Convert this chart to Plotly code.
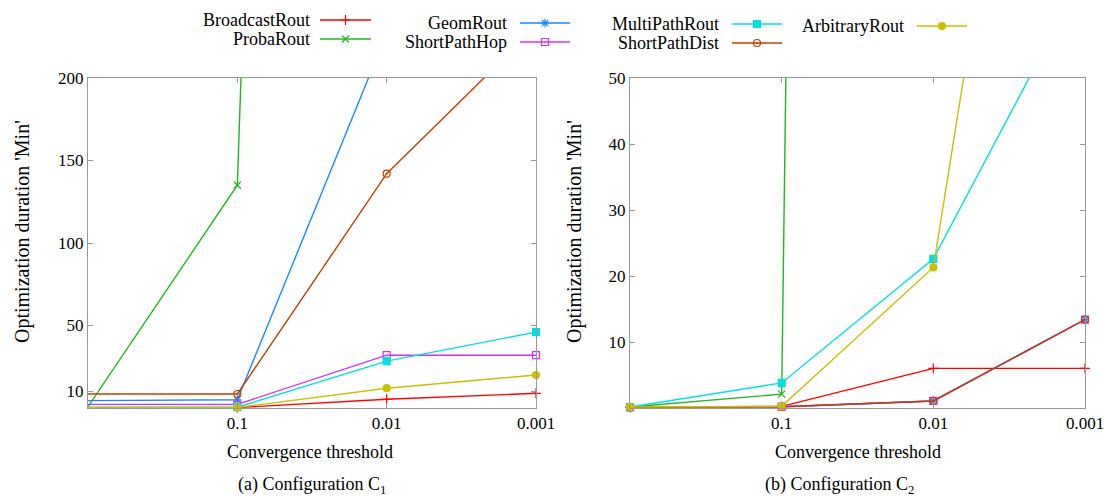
import plotly.graph_objects as go

# ---------------- data ----------------
thresholds = ["1", "0.1", "0.01", "0.001"]
x_index = [0, 1, 2, 3]
tick_labels = ["0.1", "0.01", "0.001"]

series_names = ["BroadcastRout", "ProbaRout", "GeomRout", "ShortPathHop",
                "MultiPathRout", "ShortPathDist", "ArbitraryRout"]

# Configuration C1 (minutes)
c1_broadcast = [0.2, 0.3, 5.3, 8.9]
c1_proba = [0.8, 135, 2800, 6000]
c1_geom = [4.5, 5.0, 227, 600]
c1_shortpathhop = [2.2, 2.2, 32, 32]
c1_multipath = [0.5, 0.5, 28.4, 46]
c1_shortpathdist = [8.5, 8.5, 142, 231]
c1_arbitrary = [0.4, 0.3, 12, 20]

# Configuration C2 (minutes)
c2_broadcast = [0.1, 0.25, 6.0, 6.0]
c2_proba = [0.15, 2.1, 1740, 3000]
c2_geom = [0.1, 0.2, 1.07, 13.4]
c2_shortpathhop = [0.1, 0.2, 1.07, 13.4]
c2_multipath = [0.15, 3.8, 22.6, 66]
c2_shortpathdist = [0.1, 0.2, 1.07, 13.4]
c2_arbitrary = [0.15, 0.25, 21.3, 165]

c1_values = [c1_broadcast, c1_proba, c1_geom, c1_shortpathhop,
             c1_multipath, c1_shortpathdist, c1_arbitrary]
c2_values = [c2_broadcast, c2_proba, c2_geom, c2_shortpathhop,
             c2_multipath, c2_shortpathdist, c2_arbitrary]

c1_yticks = [10, 50, 100, 150, 200]
c2_yticks = [10, 20, 30, 40, 50]

# ---------------- styles ----------------
colors = ["#ff0000", "#1fb81f", "#1e88ff", "#cc33ff",
          "#00e0e0", "#c04000", "#c8c000"]
symbols = ["cross-thin", "x-thin", "asterisk", "square-open",
           "square", "circle-open-dot", "circle"]
FONT = "Liberation Serif"
W, H = 1106, 498
LEG_H = 60  # legend strip height in pixels

fig = go.Figure()

panels = [
    dict(values=c1_values, xa="x", ya="y", ymax=200, first=1),
    dict(values=c2_values, xa="x2", ya="y2", ymax=50, first=0),
]

for p in panels:
    for name, vals, col, sym in zip(series_names, p["values"], colors, symbols):
        fig.add_trace(go.Scatter(
            x=x_index, y=vals, mode="lines", xaxis=p["xa"], yaxis=p["ya"],
            line=dict(color=col, width=1.4), showlegend=False, hoverinfo="skip"))
        mx = [x for x, v in zip(x_index, vals) if x >= p["first"] and 0 <= v <= p["ymax"]]
        my = [v for x, v in zip(x_index, vals) if x >= p["first"] and 0 <= v <= p["ymax"]]
        fig.add_trace(go.Scatter(
            x=mx, y=my, mode="markers", xaxis=p["xa"], yaxis=p["ya"],
            cliponaxis=False, showlegend=False, name=name,
            marker=dict(symbol=sym, size=7, color=col,
                        line=dict(color=col, width=1.2))))

# ---------------- custom gnuplot-style legend ----------------
legend_layout = [  # (text right edge, sample start, sample end, y) in pixels
    (312, 320, 371, 20), (312, 320, 371, 39),
    (509, 520, 570, 23), (509, 520, 570, 42),
    (721, 732, 782, 24), (721, 732, 782, 43),
    (906, 917, 967, 26),
]
for name, col, sym, (tx, x0, x1, ly) in zip(series_names, colors, symbols, legend_layout):
    fig.add_trace(go.Scatter(
        x=[x0, x1], y=[ly, ly], mode="lines", xaxis="x3", yaxis="y3",
        line=dict(color=col, width=1.4), showlegend=False, hoverinfo="skip"))
    fig.add_trace(go.Scatter(
        x=[(x0 + x1) / 2], y=[ly], mode="markers", xaxis="x3", yaxis="y3",
        marker=dict(symbol=sym, size=7, color=col, line=dict(color=col, width=1.2)),
        showlegend=False, hoverinfo="skip"))
    fig.add_annotation(x=tx / W, y=1 - ly / H, xref="paper", yref="paper",
                       text=name, showarrow=False, xanchor="right", yanchor="middle",
                       font=dict(family=FONT, size=18, color="black"))

axis_common = dict(showgrid=False, zeroline=False, showline=True, linecolor="#999999",
                   linewidth=1, mirror="ticks", ticks="inside", ticklen=5,
                   tickcolor="#999999", automargin=False, ticklabeloverflow="allow",
                   tickfont=dict(family=FONT, size=17, color="black"))

fig.update_layout(
    width=W, height=H, margin=dict(l=0, r=0, t=0, b=0, autoexpand=False),
    paper_bgcolor="white", plot_bgcolor="rgba(0,0,0,0)", showlegend=False,
    xaxis=dict(domain=[88 / W, 536 / W], range=[0, 3], tickvals=x_index[1:],
               ticktext=tick_labels, anchor="y", **axis_common),
    yaxis=dict(domain=[1 - 408 / H, 1 - 78 / H], range=[0, 200], tickvals=c1_yticks,
               anchor="x", **axis_common),
    xaxis2=dict(domain=[630 / W, 1085 / W], range=[0, 3], tickvals=x_index[1:],
                ticktext=tick_labels, anchor="y2", **axis_common),
    yaxis2=dict(domain=[1 - 408 / H, 1 - 78 / H], range=[0, 50], tickvals=c2_yticks,
                anchor="x2", **axis_common),
    xaxis3=dict(domain=[0, 1], range=[0, W], visible=False, anchor="y3", automargin=False),
    yaxis3=dict(domain=[1 - LEG_H / H, 1], range=[LEG_H, 0], visible=False, anchor="x3",
                automargin=False),
)

annots = [
    (22, 232, "Optimization duration 'Min'", 90, 20),
    (574, 232, "Optimization duration 'Min'", 90, 20),
    (310, 452, "Convergence threshold", 0, 18),
    (858, 452, "Convergence threshold", 0, 18),
    (312, 485, "(a) Configuration C<sub>1</sub>", 0, 18),
    (839, 485, "(b) Configuration C<sub>2</sub>", 0, 18),
]
for ax, ay, t, rot, fs in annots:
    fig.add_annotation(x=ax / W, y=1 - ay / H, xref="paper", yref="paper", text=t,
                       showarrow=False, textangle=-rot, xanchor="center",
                       yanchor="middle", font=dict(family=FONT, size=fs, color="black"))

fig.write_html("out.html")
